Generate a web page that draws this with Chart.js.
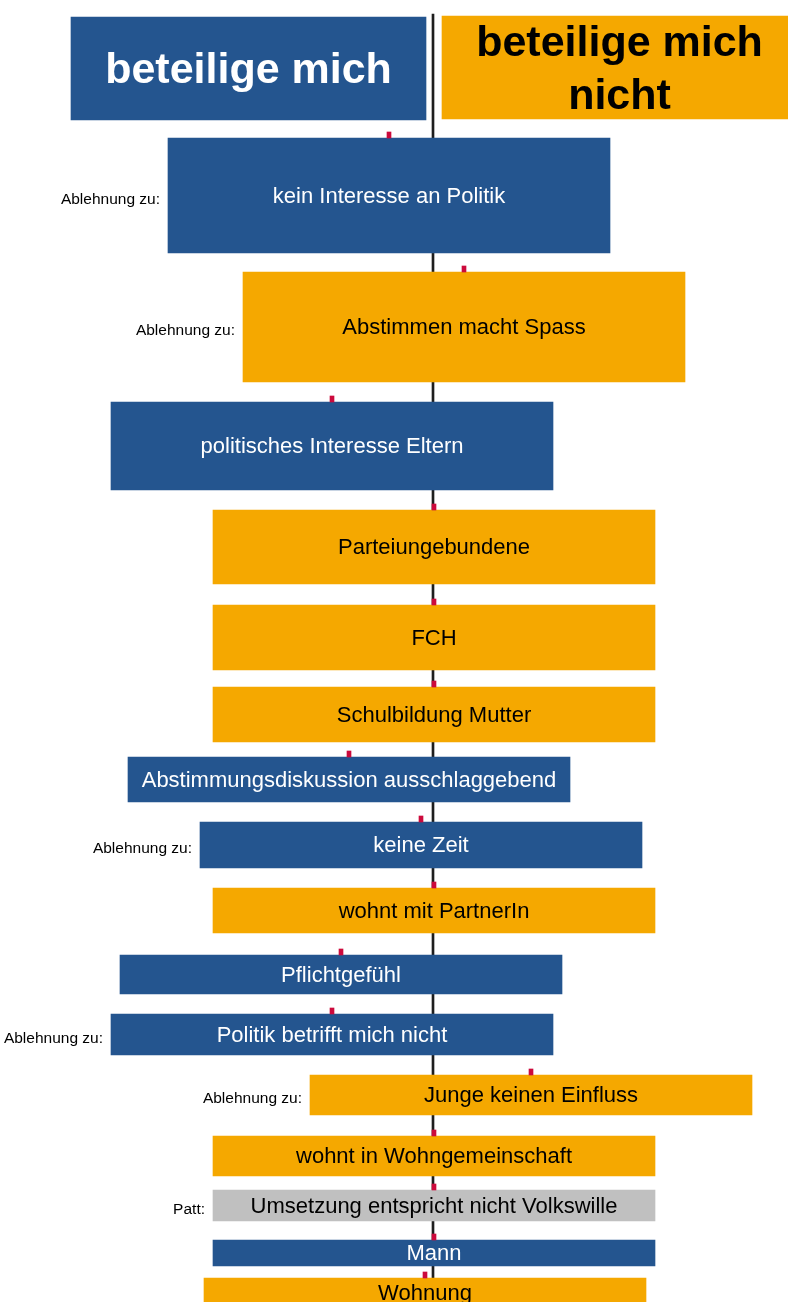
<!DOCTYPE html>
<html>
<head>
<meta charset="utf-8">
<script src="https://cdn.jsdelivr.net/npm/chart.js@4/dist/chart.umd.min.js"></script>
<style>
html, body { margin: 0; padding: 0; background: #fff; }
canvas { display: block; }
</style>
</head>
<body>
<canvas id="grafico" width="788" height="1302"></canvas>
<script>
// Kästen (von oben nach unten)
var kategorien = [
    'kein Interesse an Politik',
    'Abstimmen macht Spass',
    'politisches Interesse Eltern',
    'Parteiungebundene',
    'FCH',
    'Schulbildung Mutter',
    'Abstimmungsdiskussion ausschlaggebend',
    'keine Zeit',
    'wohnt mit PartnerIn',
    'Pflichtgefühl',
    'Politik betrifft mich nicht',
    'Junge keinen Einfluss',
    'wohnt in Wohngemeinschaft',
    'Umsetzung entspricht nicht Volkswille',
    'Mann',
    'Wohnung'
];
// Seite: m = beteilige mich, n = beteilige mich nicht, p = Patt
var seite = ['m', 'n', 'm', 'n', 'n', 'n', 'm', 'm', 'n', 'm', 'm', 'n', 'n', 'p', 'm', 'n'];
// Verschiebung der Kastenmitte gegenüber der Mittellinie
var verschiebung = [-44, 31, -101, 1, 1, 1, -84, -12, 1, -92, -101, 98, 1, 1, 1, -8];
// Oberkante / Unterkante der Kästen
var oben = [138, 272, 402, 510, 605, 687, 757, 822, 888, 955, 1014, 1075, 1136, 1190, 1240, 1278];
var unten = [253, 382, 490, 584, 670, 742, 802, 868, 933, 994, 1055, 1115, 1176, 1221, 1266, 1308];
// Vorsatz links vom Kasten
var vorsatz = ['Ablehnung zu:', 'Ablehnung zu:', '', '', '', '', '', 'Ablehnung zu:', '', '',
    'Ablehnung zu:', 'Ablehnung zu:', '', 'Patt:', '', ''];

// Kopfzeile
var kopfText = [['beteilige mich'], ['beteilige mich', 'nicht']];
var kopfSeite = ['m', 'n'];
var kopfMitte = [-184.5, 186.5];
var kopfOben = [17, 16];
var kopfUnten = [120, 119];

var farben = { m: '#24558F', n: '#F5A800', p: '#C0C0C0' };
var textFarben = { m: '#FFFFFF', n: '#000000', p: '#000000' };
var schrift = '"Liberation Sans", Arial, sans-serif';

// Daten für die Kästen und Markierungen
var kastenDaten = kategorien.map((k, i) => ({ x: verschiebung[i], y: [oben[i], unten[i]] }));
var markDaten = kategorien.map((k, i) => ({ x: verschiebung[i], y: [oben[i] - 6, oben[i]] }));
var kopfDaten = kopfText.map((k, i) => ({ x: kopfMitte[i], y: [kopfOben[i], kopfUnten[i]] }));

var beschriftung = {
    id: 'beschriftung',
    afterDatasetsDraw(chart) {
        var ctx = chart.ctx;
        ctx.save();
        ctx.textAlign = 'center';
        ctx.textBaseline = 'middle';

        // Kopf
        var kopfMeta = chart.getDatasetMeta(2);
        kopfMeta.data.forEach((bar, i) => {
            var zeilen = kopfText[i];
            var mitteY = (bar.y + bar.base) / 2;
            ctx.font = 'bold 43px ' + schrift;
            ctx.fillStyle = textFarben[kopfSeite[i]];
            zeilen.forEach((z, j) => {
                ctx.fillText(z, bar.x, mitteY + (j - (zeilen.length - 1) / 2) * 53 + 3);
            });
        });

        // Kästen
        var meta = chart.getDatasetMeta(1);
        meta.data.forEach((bar, i) => {
            var mitteY = (bar.y + bar.base) / 2;
            ctx.font = '22px ' + schrift;
            ctx.textAlign = 'center';
            ctx.fillStyle = textFarben[seite[i]];
            ctx.fillText(kategorien[i], bar.x, mitteY + 1);
            if (vorsatz[i]) {
                ctx.font = '15.5px ' + schrift;
                ctx.textAlign = 'right';
                ctx.fillStyle = '#000000';
                ctx.fillText(vorsatz[i], bar.x - bar.width / 2 - 8, mitteY + 4);
            }
        });
        ctx.restore();
    }
};

var ctx = document.getElementById('grafico').getContext('2d');
new Chart(ctx, {
    type: 'bar',
    data: {
        datasets: [{
            label: 'Mitte',
            data: markDaten,
            backgroundColor: '#CC0A3C',
            barThickness: 4,
            grouped: false,
            order: 0
        }, {
            label: 'Kästen',
            data: kastenDaten,
            backgroundColor: seite.map(s => farben[s]),
            barThickness: 442,
            grouped: false,
            order: 1
        }, {
            label: 'Kopf',
            data: kopfDaten,
            backgroundColor: kopfSeite.map(s => farben[s]),
            barThickness: 355,
            grouped: false,
            order: 1
        }, {
            label: 'Linie',
            data: [{ x: 0, y: [14, 1302] }],
            backgroundColor: '#1E1E1E',
            barThickness: 2,
            grouped: false,
            order: 2
        }]
    },
    options: {
        responsive: false,
        animation: false,
        layout: { padding: 0 },
        plugins: {
            legend: { display: false },
            tooltip: { enabled: false }
        },
        scales: {
            x: {
                type: 'linear',
                min: -433,
                max: 355,
                offset: false,
                display: false
            },
            y: {
                type: 'linear',
                min: 0,
                max: 1302,
                reverse: true,
                display: false
            }
        }
    },
    plugins: [beschriftung]
});
</script>
</body>
</html>
